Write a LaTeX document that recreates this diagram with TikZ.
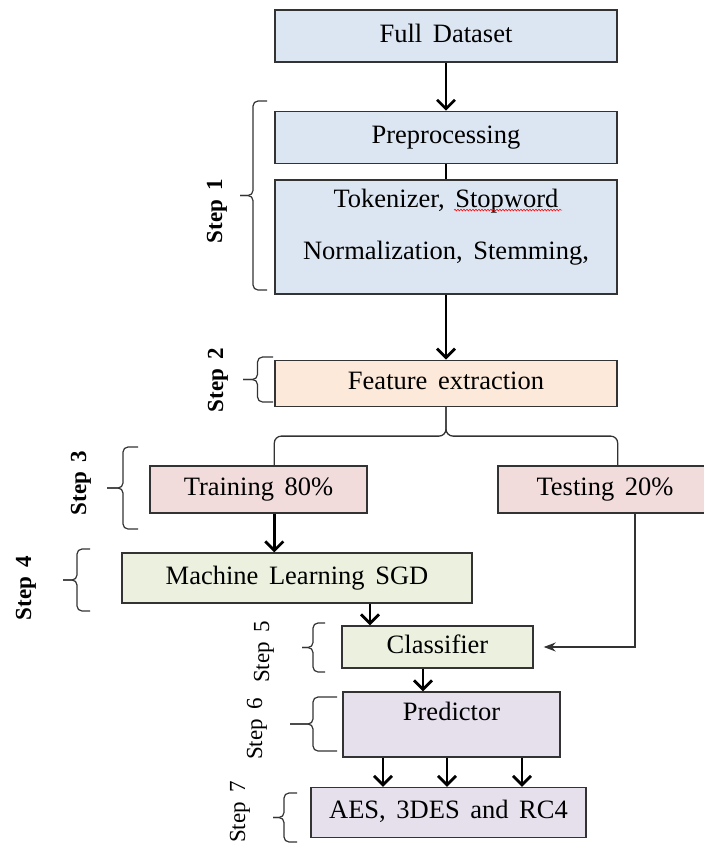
\documentclass[tikz,border=0pt]{standalone}
\usepackage{fontspec}
\setmainfont{Liberation Serif}[WordSpace=1.6]
\usetikzlibrary{
  positioning,
  arrows.meta,             % barb and stealth tips
  calc,                    % midpoint of the split
  decorations.pathmorphing % wavy spell mark
}

\definecolor{dsblue}{HTML}{DCE6F2}
\definecolor{featorange}{HTML}{FDE9D9}
\definecolor{splitpink}{HTML}{F2DCDB}
\definecolor{mlgreen}{HTML}{EBF1DE}
\definecolor{predlilac}{HTML}{E5E0EC}
\definecolor{edgegray}{HTML}{333333}

% curly step bracket: ends x, spine x, tip x, top y, bottom y
\newcommand{\stepbrace}[5]{%
  \draw[bracket] (#1,-#4) -- (#2,-#4) -- (#2,{-(#4+#5)/2}) -- (#3,{-(#4+#5)/2});
  \draw[bracket] (#1,-#5) -- (#2,-#5) -- (#2,{-(#4+#5)/2}) -- (#3,{-(#4+#5)/2});
}

\begin{document}
\begin{tikzpicture}[
    x=1pt, y=1pt,
    font=\fontsize{26.5}{31}\selectfont,
    >={Straight Barb[length=9pt,width=18pt]},
    box/.style={rectangle, draw=edgegray, line width=1.4pt, inner sep=0pt,
                minimum height=52pt, text height=18pt, text depth=6pt},
    bluebox/.style={box, fill=dsblue, minimum width=342pt},
    orangebox/.style={box, fill=featorange},
    pinkbox/.style={box, fill=splitpink},
    greenbox/.style={box, fill=mlgreen},
    lilacbox/.style={box, fill=predlilac},
    boxtext/.style={align=center, inner sep=0pt},
    flow/.style={->, line width=2.7pt, black},
    link/.style={line width=2.7pt, black},
    feed/.style={-{Stealth[length=12pt,width=9pt]}, line width=1.3pt, edgegray,
                 shorten >=10pt},
    fork/.style={line width=1.3pt, edgegray, rounded corners=7pt},
    bracket/.style={line width=1.2pt, edgegray, rounded corners=5pt},
    spellmark/.style={red, line width=0.6pt,
                      decorate, decoration={snake, segment length=3pt, amplitude=0.8pt}},
    steplabel/.style={rotate=90, font=\fontsize{23}{26}\selectfont\bfseries},
    steplight/.style={rotate=90, font=\fontsize{23}{26}\selectfont}
]
  \useasboundingbox (0,0) rectangle (704,-847);

  % main column
  \node[bluebox] (full) at (446,-36) {Full Dataset};
  \node[bluebox, below=48pt of full] (pre) {Preprocessing};
  \node[bluebox, below=15pt of pre, minimum height=114pt] (tok) {};
  \node[boxtext, below=10pt of tok.north] (toktext)
        {Tokenizer, Stopword\\[21pt]Normalization, Stemming,};
  \draw[spellmark] ([xshift=8pt, yshift=-21pt]toktext.north)
        -- ([xshift=116pt, yshift=-21pt]toktext.north);
  \node[orangebox, below=65pt of tok, minimum width=342pt, minimum height=46pt] (feat)
        {Feature extraction};

  % split and learning part
  \node[pinkbox, minimum width=217pt, minimum height=47pt] (train) at (258.5,-489.5)
        {Training 80\%};
  \node[pinkbox, minimum width=214pt, minimum height=47pt] (test) at (605,-489.5)
        {Testing 20\%};
  \node[greenbox, minimum width=350pt, minimum height=50pt] (ml) at (297,-578)
        {Machine Learning SGD};
  \node[greenbox, minimum width=191pt, minimum height=42pt] (cls) at (437.5,-647)
        {Classifier};
  \node[lilacbox, minimum width=217pt, minimum height=65pt, text depth=27pt] (pred)
        at (451.5,-724.5) {Predictor};
  \node[lilacbox, minimum width=275pt, minimum height=50pt] (aes) at (448.5,-812.5)
        {AES, 3DES and RC4};

  \draw[flow] (full) -- (pre);
  \draw[link] (pre) -- (tok);
  \draw[flow] (tok) -- (feat);

  \coordinate (fork) at ($(feat.south)!0.5!(feat.south |- train.north)$);
  \draw[fork] (feat.south) -- (fork) -| (train.north -| feat.west);
  \draw[fork] (feat.south) -- (fork) -| (test.north -| feat.east);

  \draw[flow] (train.south -| feat.west) -- (ml.north -| feat.west);

  \coordinate (mlout) at ([xshift=73pt]ml.south);
  \draw[flow] (mlout) -- (mlout |- cls.north);

  \coordinate (testout) at ([xshift=30pt]test.south);
  \draw[feed] (testout) |- (cls.east);

  \coordinate (clsout) at ([xshift=-14.5pt]cls.south);
  \draw[flow] (clsout) -- (clsout |- pred.north);

  \coordinate (predoutA) at ([xshift=-68.5pt]pred.south);
  \coordinate (predoutB) at ([xshift=-4.5pt]pred.south);
  \coordinate (predoutC) at ([xshift=70.5pt]pred.south);
  \draw[flow] (predoutA) -- (predoutA |- aes.north);
  \draw[flow] (predoutB) -- (predoutB |- aes.north);
  \draw[flow] (predoutC) -- (predoutC |- aes.north);

  % step brackets and their labels
  \stepbrace{267}{253}{240}{101}{290}
  \stepbrace{273}{257.5}{243}{357}{402}
  \stepbrace{138}{123}{107}{447}{529}
  \stepbrace{90}{77}{63}{549}{611}
  \stepbrace{325}{313}{302}{623}{672}
  \stepbrace{337}{313}{290}{697}{751}
  \stepbrace{297}{284}{273}{793}{842}

  \node[steplabel] (step1) at (217,-211) {Step 1};
  \node[steplabel] (step2) at (218,-380) {Step 2};
  \node[steplabel] (step3) at (81,-483)  {Step 3};
  \node[steplabel] (step4) at (26,-588)  {Step 4};
  \node[steplight] (step5) at (264,-652) {Step 5};
  \node[steplight] (step6) at (257,-729) {Step 6};
  \node[steplight] (step7) at (240,-812) {Step 7};
\end{tikzpicture}
\end{document}
